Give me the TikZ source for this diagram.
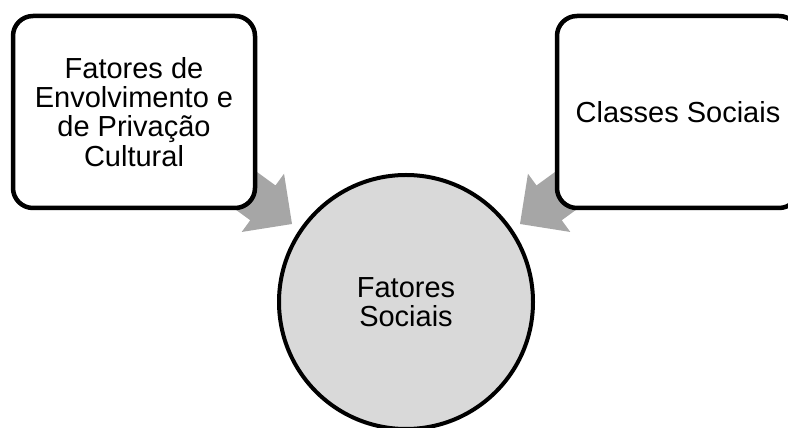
\documentclass[tikz,border=0pt]{standalone}
\usepackage{fontspec}
\setmainfont{Liberation Sans}
\begin{document}
\begin{tikzpicture}[x=1pt,y=1pt,
  sidebox/.style={draw=black, line width=4.5pt, fill=white, rounded corners=20pt,
    minimum width=242pt, minimum height=192pt, align=center, inner sep=0pt,
    font=\fontsize{29}{29.2}\selectfont},
  hub/.style={circle, draw=black, line width=4pt, fill=hubgray, minimum size=254pt,
    align=center, inner sep=0pt, font=\fontsize{29}{29.2}\selectfont},
  blockarrow/.style={fill=arrowgray}]
\definecolor{hubgray}{HTML}{D9D9D9}
\definecolor{arrowgray}{HTML}{A6A6A6}
\useasboundingbox (0,0) rectangle (788,428);
\clip (0,0) rectangle (788,428);

% arrow tips, just outside the central circle
\coordinate (ltip) at (292,204);
\coordinate (rtip) at (520,204);

% block arrows (their tails run under the boxes)
\fill[blockarrow, shift={(ltip)}, rotate=-36]
  (0,0) -- (-36,36) -- (-36,21.5) -- (-140,21.5) -- (-140,-21.5)
  -- (-36,-21.5) -- (-36,-36) -- cycle;
\fill[blockarrow, shift={(rtip)}, rotate=216]
  (0,0) -- (-36,36) -- (-36,21.5) -- (-140,21.5) -- (-140,-21.5)
  -- (-36,-21.5) -- (-36,-36) -- cycle;

% outer boxes
\node[sidebox] (envolvimento) at (134,316)
  {Fatores de\\Envolvimento e\\de Privação\\Cultural};
\node[sidebox] (classes) at (678,316) {Classes Sociais};

% central circle
\node[hub] (sociais) at (406,126) {Fatores\\Sociais};
\end{tikzpicture}
\end{document}
